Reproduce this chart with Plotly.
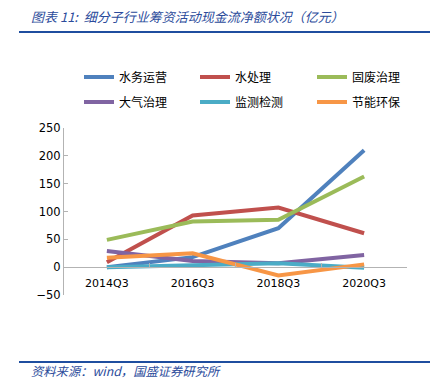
import plotly.graph_objects as go

categories = ["2014Q3", "2016Q3", "2018Q3", "2020Q3"]
series_names = ["水务运营", "水处理", "固废治理", "大气治理", "监测检测", "节能环保"]
water_ops = [0, 18, 70, 210]
water_treat = [9, 93, 107, 61]
solid_waste = [49, 82, 85, 163]
air = [29, 11, 7, 22]
monitoring = [0, 4, 7, -1]
energy = [17, 25, -15, 5]
y_ticks = [-50, 0, 50, 100, 150, 200, 250]

series_values = [water_ops, water_treat, solid_waste, air, monitoring, energy]
colors = ["#4F81BD", "#C0504D", "#9BBB59", "#8064A2", "#4BACC6", "#F79646"]

# the page body has an 8px margin: work in window pixels, convert to figure
OFF = 8
W, H = 444 - OFF, 385 - OFF
WL, WR, WT, WB = 64, 407, 128, 295  # plot area in window pixels
L, T = WL - OFF, WT - OFF
R = W - (WR - OFF)
B = H - (WB - OFF)
PW, PH = W - L - R, H - T - B


def px(xw):
    return (xw - OFF - L) / PW


def py(yw):
    return (H - B - (yw - OFF)) / PH


legend_ids = ["legend", "legend2", "legend3", "legend4", "legend5", "legend6"]
legend_pos = [(82, 77), (198, 77), (315, 77), (82, 102), (198, 102), (315, 102)]

fig = go.Figure()
for i, (name, vals) in enumerate(zip(series_names, series_values)):
    fig.add_trace(go.Scatter(
        x=categories, y=vals, name=name, mode="lines",
        line=dict(color=colors[i], width=4),
        legend=legend_ids[i],
    ))

cjk = "Noto Sans CJK SC"
title_color = "#2B4B9B"
legends = {}
for lid, (lx, ly) in zip(legend_ids, legend_pos):
    legends[lid] = dict(
        x=px(lx - 3), y=py(ly), orientation="h", xanchor="left", yanchor="middle",
        font=dict(family=cjk, size=12, color="#000000"),
        bgcolor="rgba(0,0,0,0)", itemclick=False, itemdoubleclick=False,
    )

fig.update_layout(
    width=W, height=H,
    margin=dict(l=L, r=R, t=T, b=B, autoexpand=False),
    paper_bgcolor="white", plot_bgcolor="white",
    showlegend=True,
    **legends,
    xaxis=dict(
        type="category", categoryorder="array", categoryarray=categories,
        range=[-0.5, 3.5], anchor="free", position=50 / 300,
        showline=True, linecolor="#B3B3B3", linewidth=1,
        ticks="inside", tickson="boundaries", ticklen=4, tickcolor="#B3B3B3",
        showgrid=False, zeroline=False,
        tickfont=dict(family="DejaVu Sans", size=11, color="#000000"),
        ticklabelstandoff=6,
        domain=[0, 1],
    ),
    yaxis=dict(
        range=[-50, 250], tickvals=y_ticks,
        showline=True, linecolor="#B3B3B3", linewidth=1,
        ticks="inside", ticklen=4, tickcolor="#B3B3B3",
        showgrid=False, zeroline=False,
        tickfont=dict(family="DejaVu Sans", size=11.5, color="#000000"),
        ticklabelstandoff=0,
    ),
    shapes=[
        dict(type="line", xref="paper", yref="paper", x0=px(19), x1=px(430),
             y0=py(32), y1=py(32), line=dict(color="#1F4E9F", width=2)),
        dict(type="line", xref="paper", yref="paper", x0=px(19), x1=px(430),
             y0=py(362), y1=py(362), line=dict(color="#1F4E9F", width=2)),
    ],
    annotations=[
        dict(text="<i>图表 11:  细分子行业筹资活动现金流净额状况（亿元）</i>",
             xref="paper", yref="paper", x=px(29), y=py(16),
             xanchor="left", yanchor="middle", showarrow=False,
             font=dict(family=cjk, size=13, color=title_color)),
        dict(text="<i>资料来源：wind，国盛证券研究所</i>",
             xref="paper", yref="paper", x=px(29), y=py(371),
             xanchor="left", yanchor="middle", showarrow=False,
             font=dict(family=cjk, size=12.3, color=title_color)),
    ],
)

fig.write_html("out.html")
